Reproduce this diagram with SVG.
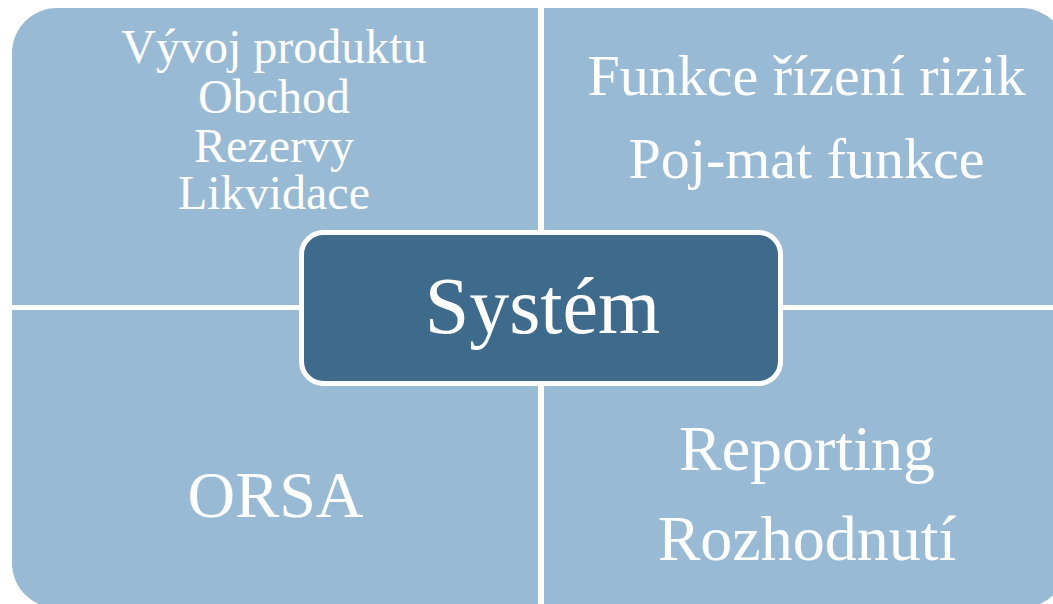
<svg xmlns="http://www.w3.org/2000/svg" width="1053" height="604" viewBox="0 0 1053 604">
  <style>
    .quad { fill: #99bad4; }
    .center { fill: #3e6a8c; stroke: #ffffff; stroke-width: 5; }
    text { font-family: "Liberation Serif", "Times New Roman", serif; fill: #ffffff; text-anchor: middle; }
    .s48 { font-size: 48px; }
    .s58 { font-size: 58px; }
    .s64 { font-size: 64px; }
    .s66 { font-size: 66px; }
    .s80 { font-size: 80px; }
  </style>
  <rect width="1053" height="604" fill="#ffffff"/>
  <g id="node-top-left">
    <path class="quad" d="M12,53 A45,45 0 0 1 57,8 H538 V305 H12 Z"/>
    <text class="s48" x="274" y="63">Vývoj produktu</text>
    <text class="s48" x="274" y="113">Obchod</text>
    <text class="s48" x="274" y="162">Rezervy</text>
    <text class="s48" x="274" y="209">Likvidace</text>
  </g>
  <g id="node-top-right">
    <path class="quad" d="M544,8 H1021.5 A45,45 0 0 1 1066.5,53 V305 H544 Z"/>
    <text class="s58" x="806.5" y="95">Funkce řízení rizik</text>
    <text class="s58" x="806.5" y="178">Poj-mat funkce</text>
  </g>
  <g id="node-bottom-left">
    <path class="quad" d="M12,310 H538 V608 H57 A45,45 0 0 1 12,563 Z"/>
    <text class="s66" x="275.5" y="517">ORSA</text>
  </g>
  <g id="node-bottom-right">
    <path class="quad" d="M544,310 H1066.5 V563 A45,45 0 0 1 1021.5,608 H544 Z"/>
    <text class="s64" x="807" y="470">Reporting</text>
    <text class="s64" x="807" y="560">Rozhodnutí</text>
  </g>
  <g id="connectors"></g>
  <g id="node-center">
    <rect class="center" x="301.5" y="232.5" width="479" height="151" rx="22" ry="22"/>
    <text class="s80" x="542.5" y="333">Systém</text>
  </g>
</svg>
